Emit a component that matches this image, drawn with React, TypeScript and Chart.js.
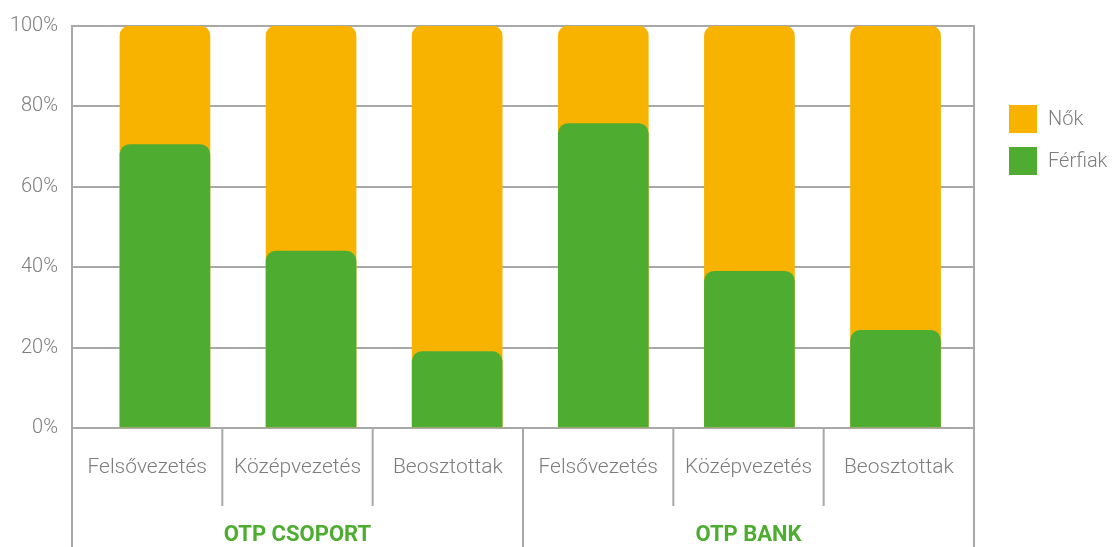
import React, { useEffect, useRef } from "react";
import { Chart, registerables } from "chart.js";

Chart.register(...registerables);

const categories = ["Felsővezetés", "Középvezetés", "Beosztottak", "Felsővezetés", "Középvezetés", "Beosztottak"];
const groups = ["OTP CSOPORT", "OTP BANK"];
const ferfiak = [70.5, 44, 19, 75.7, 39, 24.3];
const nok = [29.5, 56, 81, 24.3, 61, 75.7];
const yTicks = [0, 20, 40, 60, 80, 100];

const ORANGE = "#F8B200";
const GREEN = "#4EAD31";
const GRID = "#a8a8a8";
const TEXT = "#7d7d7d";
const FONT = "Roboto";

export default function App() {
  const ref = useRef<HTMLCanvasElement | null>(null);

  useEffect(() => {
    document.body.style.margin = "0";
    const canvas = ref.current;
    if (!canvas) return;

    const totals = ferfiak.map((f, i) => f + nok[i]);

    const bottomAxisPlugin = {
      id: "bottomAxis",
      afterDraw(chart: any) {
        const { ctx, chartArea } = chart;
        const { left, right, top, bottom } = chartArea;
        const h = chart.height;
        const w = (right - left) / categories.length;
        ctx.save();
        ctx.strokeStyle = GRID;
        ctx.lineWidth = 2;
        for (let k = 0; k <= categories.length; k++) {
          const x = left + k * w;
          const full = k % 3 === 0;
          ctx.beginPath();
          ctx.moveTo(x, k === categories.length ? top - 1 : bottom);
          ctx.lineTo(x, full ? h : bottom + 78);
          ctx.stroke();
        }
        ctx.fillStyle = TEXT;
        ctx.font = `300 21px ${FONT}`;
        ctx.textAlign = "center";
        ctx.textBaseline = "middle";
        categories.forEach((c, i) => {
          ctx.fillText(c, left + (i + 0.5) * w, bottom + 40);
        });
        ctx.fillStyle = GREEN;
        ctx.font = `bold 22px ${FONT}`;
        groups.forEach((g, gi) => {
          ctx.fillText(g, left + (gi * 3 + 1.5) * w, bottom + 107);
        });
        // legend
        const items = chart.data.datasets;
        ctx.font = `300 20px ${FONT}`;
        ctx.textAlign = "left";
        items.forEach((ds: any, j: number) => {
          const bx = right + 35;
          const by = 105 + j * 42;
          ctx.fillStyle = ds.backgroundColor;
          ctx.fillRect(bx, by, 28, 28);
          ctx.fillStyle = TEXT;
          ctx.fillText(ds.label, bx + 39, by + 15);
        });
        ctx.restore();
      },
    };

    const chart = new Chart(canvas, {
      type: "bar",
      data: {
        datasets: [
          {
            label: "Nők",
            data: totals.map((y, i) => ({ x: i, y })),
            backgroundColor: ORANGE,
            borderRadius: 10,
            borderSkipped: "start",
            order: 1,
          },
          {
            label: "Férfiak",
            data: ferfiak.map((y, i) => ({ x: i, y })),
            backgroundColor: GREEN,
            borderRadius: 10,
            borderSkipped: "start",
            order: 0,
          },
        ],
      } as any,
      options: {
        animation: false,
        responsive: true,
        maintainAspectRatio: false,
        layout: { padding: { top: 24, right: 140, bottom: 119, left: 0 } },
        datasets: { bar: { barThickness: 90, grouped: false } } as any,
        plugins: { legend: { display: false }, tooltip: { enabled: false } },
        scales: {
          x: {
            type: "linear",
            min: -0.636,
            max: 5.537,
            offset: false,
            bounds: "ticks",
            display: false,
          },
          y: {
            min: 0,
            max: 100,
            afterFit(scale: any) {
              scale.width = 72;
            },
            afterBuildTicks(scale: any) {
              scale.ticks = yTicks.map((v) => ({ value: v }));
            },
            ticks: {
              color: TEXT,
              padding: 14,
              font: { family: FONT, size: 20, weight: 300 as any },
              callback: (v: any) => `${v}%`,
            },
            grid: { color: GRID, lineWidth: 2, drawTicks: false },
            border: { display: true, color: GRID, width: 2 },
          },
        },
      } as any,
      plugins: [bottomAxisPlugin],
    });

    return () => chart.destroy();
  }, []);

  return (
    <div style={{ width: 1114, height: 547, position: "relative" }}>
      <canvas ref={ref} />
    </div>
  );
}
